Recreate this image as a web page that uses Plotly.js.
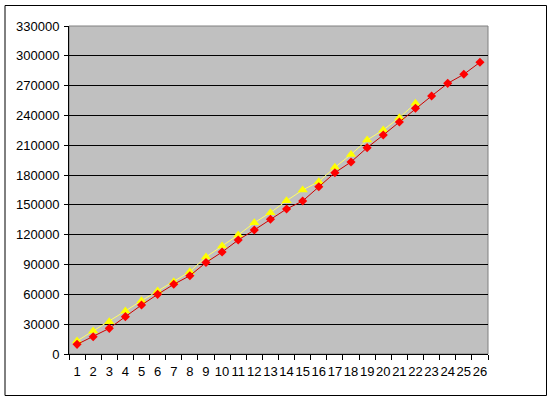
<!DOCTYPE html>
<html>
<head>
<meta charset="utf-8">
<script src="https://cdn.plot.ly/plotly-3.0.1.min.js"></script>
<style>
html,body{margin:0;padding:0;background:#fff;}
#chart{width:552px;height:400px;}
</style>
</head>
<body>
<div id="chart"></div>
<script>
const categories = ["1","2","3","4","5","6","7","8","9","10","11","12","13","14","15","16","17","18","19","20","21","22","23","24","25","26"];
const redValues = [9700,17400,25800,37600,49300,60000,70100,78800,92000,102600,114700,124800,135500,145900,153900,168300,182400,193200,207600,220300,233400,247200,259600,272300,281400,293500];
const yellowValues = [13100,23100,32500,43300,53600,63400,72800,82800,97600,108700,119700,132100,142200,154200,165000,173400,187800,200700,215300,225400,237700,252200];
const yTicks = [0,30000,60000,90000,120000,150000,180000,210000,240000,270000,300000,330000];

const traces = [
  {
    x: categories.slice(0, yellowValues.length), y: yellowValues,
    type: 'scatter', mode: 'lines+markers',
    line: {color: '#FFFF66', width: 1},
    marker: {symbol: 'triangle-up', size: 9, color: '#FFFF00'},
    hoverinfo: 'none'
  },
  {
    x: categories, y: redValues,
    type: 'scatter', mode: 'lines+markers',
    line: {color: '#CC0000', width: 1},
    marker: {symbol: 'diamond', size: 7, color: '#FF0000'},
    hoverinfo: 'none'
  }
];

const layout = {
  width: 552, height: 400,
  margin: {l: 69, r: 64, t: 26, b: 46},
  paper_bgcolor: '#FFFFFF',
  plot_bgcolor: '#C0C0C0',
  showlegend: false,
  font: {family: 'Arial, "Liberation Sans", sans-serif', size: 13, color: '#000'},
  xaxis: {
    type: 'category',
    categoryorder: 'array', categoryarray: categories,
    range: [-0.5, 25.5],
    showgrid: false, zeroline: false,
    showline: true, linecolor: '#000', linewidth: 1,
    ticks: 'outside', tickson: 'boundaries', ticklen: 5, tickcolor: '#000',
    tickangle: 0, ticklabelstandoff: 5,
    tickfont: {size: 13}
  },
  yaxis: {
    range: [0, 330000],
    tickvals: yTicks, ticktext: yTicks.map(String),
    showgrid: true, gridcolor: '#000', gridwidth: 1,
    zeroline: false,
    showline: true, linecolor: '#000', linewidth: 1,
    ticks: 'outside', ticklen: 4, tickcolor: '#000',
    ticklabelstandoff: 2,
    tickfont: {size: 13}
  },
  shapes: [
    {type: 'rect', xref: 'paper', yref: 'paper', x0: 0, x1: 1, y0: 0, y1: 1,
     line: {color: '#808080', width: 1}, layer: 'below'},
    {type: 'rect', xref: 'paper', yref: 'paper',
     x0: (5 - 69) / 419, x1: (546.5 - 69) / 419,
     y0: (354 - 395.5) / 328, y1: (354 - 5.5) / 328,
     line: {color: '#000', width: 1}}
  ]
};

Plotly.newPlot('chart', traces, layout, {staticPlot: true, displayModeBar: false});
</script>
</body>
</html>
